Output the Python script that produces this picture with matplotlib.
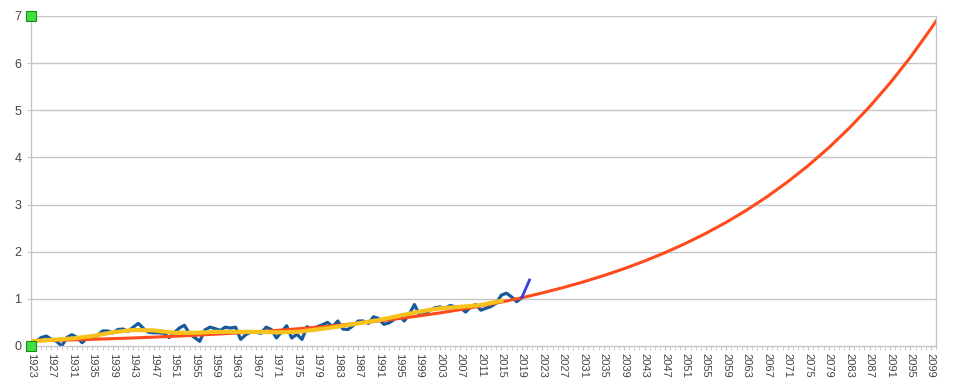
import numpy as np
import matplotlib
matplotlib.use("Agg")
import matplotlib.pyplot as plt
from matplotlib.ticker import MultipleLocator, FixedLocator

plt.rcParams['font.family'] = ['Liberation Sans', 'DejaVu Sans']

# ======================
# data
# ======================
YEARS = list(range(1923, 2020))
ANNUAL = [0.03, 0.10, 0.18, 0.21, 0.14, 0.10, 0.00, 0.18, 0.24, 0.18,
          0.07, 0.17, 0.18, 0.22, 0.32, 0.32, 0.28, 0.35, 0.36, 0.31,
          0.40, 0.48, 0.37, 0.29, 0.28, 0.28, 0.27, 0.18, 0.28, 0.38,
          0.44, 0.26, 0.18, 0.10, 0.34, 0.40, 0.37, 0.33, 0.40, 0.38,
          0.40, 0.14, 0.24, 0.30, 0.29, 0.27, 0.40, 0.35, 0.17, 0.30,
          0.43, 0.17, 0.25, 0.14, 0.41, 0.33, 0.41, 0.45, 0.50, 0.41,
          0.53, 0.36, 0.35, 0.43, 0.53, 0.53, 0.48, 0.62, 0.58, 0.46,
          0.49, 0.56, 0.65, 0.53, 0.68, 0.88, 0.65, 0.67, 0.76, 0.81,
          0.83, 0.80, 0.86, 0.83, 0.81, 0.72, 0.83, 0.88, 0.76, 0.80,
          0.84, 0.91, 1.08, 1.12, 1.04, 0.94, 1.03]

SMOOTH_YEARS = [1923, 1927, 1931, 1935, 1939, 1943, 1947, 1951, 1955, 1959, 1963, 1967,
                1971, 1975, 1979, 1983, 1987, 1991, 1995, 1999, 2003, 2007, 2011, 2015]
SMOOTH = [0.10, 0.13, 0.16, 0.21, 0.29, 0.34, 0.33, 0.28, 0.28, 0.30, 0.30, 0.30,
          0.29, 0.30, 0.35, 0.41, 0.48, 0.55, 0.64, 0.73, 0.80, 0.83, 0.87, 0.96]

RECENT_YEARS = [2019, 2020.5]
RECENT = [1.03, 1.40]

TREND_YEARS = list(range(1923, 2100, 4)) + [2100]
TREND = [0.107, 0.118, 0.129, 0.142, 0.156, 0.171, 0.188, 0.207, 0.227, 0.250,
         0.274, 0.301, 0.331, 0.364, 0.400, 0.439, 0.482, 0.530, 0.582, 0.640,
         0.703, 0.772, 0.849, 0.932, 1.024, 1.126, 1.237, 1.359, 1.493, 1.640,
         1.802, 1.980, 2.175, 2.390, 2.626, 2.885, 3.170, 3.483, 3.826, 4.204,
         4.619, 5.075, 5.576, 6.126, 6.731, 6.890]

MARK_YEARS = [1923, 1923]
MARK = [0, 7]

XLABEL_YEARS = list(range(1923, 2100, 4))

# ======================
# plot
# ======================
fig = plt.figure(figsize=(9.6, 3.84), dpi=100)
ax = fig.add_axes([31 / 960, 1 - 346 / 384, 905 / 960, 330 / 384])

grid_c = "#c6c6c6"
ax.set_xlim(1923, 2100)
ax.set_ylim(0, 7)
ax.yaxis.set_major_locator(MultipleLocator(1))
for v in range(1, 8):
    ax.axhline(v, color=grid_c, lw=1, zorder=0)

ax.plot(YEARS, ANNUAL, color="#175a9c", lw=2.3, zorder=1.5)
ax.plot(TREND_YEARS, TREND, color="#ff4a1c", lw=2.2, zorder=2)
ax.plot(SMOOTH_YEARS, SMOOTH, color="#f7c21b", lw=3, zorder=3)
ax.plot(RECENT_YEARS, RECENT, color="#3a3fd8", lw=2, zorder=4)
ax.plot(MARK_YEARS, MARK, ls="none", marker="s", ms=6.5, mfc="#3ee03e", mec="#1a8a1a",
        mew=0.8, zorder=5, clip_on=False)

ax.spines["top"].set_visible(False)
for s in ["left", "right", "bottom"]:
    ax.spines[s].set_color(grid_c)
    ax.spines[s].set_linewidth(1)

ax.xaxis.set_major_locator(FixedLocator(XLABEL_YEARS))
ax.xaxis.set_minor_locator(MultipleLocator(1))
ax.set_xticklabels([str(y) for y in XLABEL_YEARS], rotation=270, fontsize=8, color="#444444")
ax.tick_params(axis="x", which="both", length=3, color=grid_c, pad=2)
ax.tick_params(axis="y", length=3, color=grid_c, labelsize=9, labelcolor="#444444", pad=4)

fig.savefig("out.png", dpi=100)
